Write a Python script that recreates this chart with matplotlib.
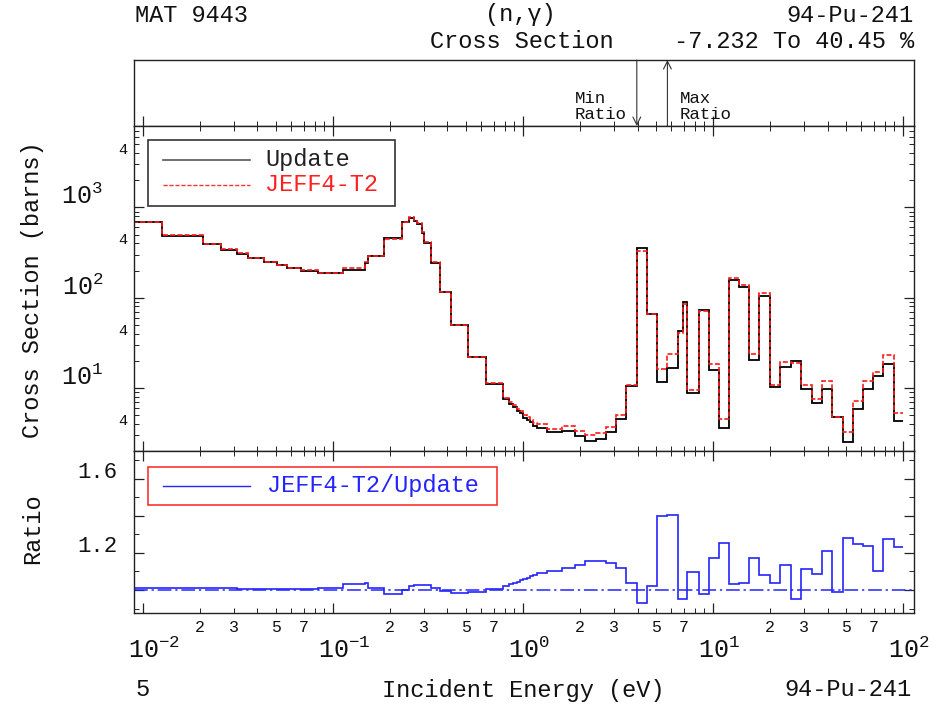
import matplotlib.pyplot as plt
import numpy as np
from matplotlib.patches import Rectangle
from matplotlib.ticker import LogLocator, MultipleLocator, NullFormatter


W, H = 937, 705
plt.rcParams["font.family"] = ["Liberation Mono", "DejaVu Sans Mono"]
plt.rcParams["mathtext.fontset"] = "custom"
plt.rcParams["mathtext.rm"] = "Liberation Mono"
plt.rcParams["mathtext.it"] = "Liberation Mono:italic"

# group boundaries (eV)
edges = [0.0089, 0.01254, 0.0206, 0.02574, 0.03113, 0.03583, 0.04334, 0.05053, 0.05747, 0.06784,
         0.08306, 0.1125, 0.1474, 0.1534, 0.1862, 0.2316, 0.2521, 0.2669, 0.2778, 0.2951,
         0.3024, 0.3280, 0.3657, 0.4179, 0.5135, 0.6363, 0.7848, 0.8439, 0.8889, 0.9265,
         0.9643, 1.0036, 1.046, 1.088, 1.133, 1.181, 1.332, 1.598, 1.878, 2.120,
         2.423, 2.734, 3.087, 3.484, 3.966, 4.478, 5.091, 5.747, 6.521, 6.927,
         7.324, 8.439, 9.526, 10.75, 12.14, 13.70, 15.53, 17.53, 19.95, 22.61,
         25.74, 29.06, 33.07, 37.33, 42.45, 48.15, 54.36, 61.37, 69.78, 78.77,
         90.00, 100.0]

# (n,gamma) cross sections, barns
update_xs = [688, 487, 390, 341, 308, 275, 249, 230, 213, 200,
             188, 205, 241, 287, 463, 695, 762, 709, 661, 520,
             407, 245, 116, 50.3, 22.2, 11.1, 7.50, 6.71, 6.17, 5.57,
             5.23, 4.69, 4.43, 4.14, 3.80, 3.64, 3.21, 3.35, 2.90, 2.60,
             2.71, 3.21, 4.51, 10.5, 355, 65.2, 11.5, 16.8, 42.6, 89.2,
             8.74, 72.2, 15.8, 3.64, 159, 132, 20.4, 104, 10.3, 17.1,
             19.9, 9.83, 6.88, 9.83, 4.78, 2.53, 5.81, 9.68, 13.6, 18.3,
             4.29]
jeff_xs = [696, 492, 394, 344, 310, 277, 250, 231, 214, 201,
           190, 211, 250, 290, 452, 695, 778, 729, 680, 535,
           419, 247, 115, 49.6, 22.0, 11.2, 7.66, 6.91, 6.40, 5.82,
           5.50, 4.97, 4.73, 4.45, 4.11, 3.97, 3.54, 3.74, 3.29, 3.01,
           3.13, 3.68, 5.04, 10.9, 329, 66.6, 16.1, 23.6, 40.5, 84.8,
           9.60, 70.5, 18.6, 4.56, 164, 137, 23.9, 112, 10.7, 19.4,
           18.9, 10.9, 7.47, 11.9, 4.74, 3.24, 7.25, 12.0, 15.0, 23.4,
           5.29]
ratio = [1.012, 1.011, 1.010, 1.009, 1.008, 1.007, 1.006, 1.006, 1.005, 1.005,
         1.010, 1.032, 1.040, 1.009, 0.977, 1.000, 1.022, 1.029, 1.029, 1.029,
         1.029, 1.009, 0.995, 0.986, 0.991, 1.005, 1.022, 1.030, 1.037, 1.045,
         1.052, 1.060, 1.067, 1.074, 1.082, 1.090, 1.104, 1.117, 1.135, 1.157,
         1.157, 1.148, 1.117, 1.036, 0.9277, 1.022, 1.400, 1.4045, 0.950, 0.950,
         1.099, 0.977, 1.175, 1.252, 1.031, 1.036, 1.171, 1.081, 1.036, 1.135,
         0.951, 1.114, 1.086, 1.211, 0.991, 1.279, 1.247, 1.238, 1.104, 1.276,
         1.232]

x_major = [0.01, 0.1, 1, 10, 100]
x_exp = ["-2", "-1", "0", "1", "2"]
x_minor_lab = [2, 3, 5, 7]
y_major = [10, 100, 1000]
y_exp = ["1", "2", "3"]
y_four = [4, 40, 400, 4000]
r_labels = [1.2, 1.6]

XLIM = (0.00897, 114)
YLIM = (2, 8000)
RLIM = (0.876, 1.75)
TXT = "#111111"
BLUE = "#2424ff"


def fx(px):
    return px / W


def fy(py):
    return 1 - py / H


def style_ticks(ax, top=True, bottom=True, left=True, right=True):
    ax.tick_params(which="both", direction="in", top=top, bottom=bottom,
                   left=left, right=right, labelbottom=False, labelleft=False,
                   colors="#222222")
    ax.tick_params(which="major", length=7, width=0.9)
    ax.tick_params(which="minor", length=3.5, width=0.7)
    for s in ax.spines.values():
        s.set_linewidth(1.0)
        s.set_color("#222222")


fig = plt.figure(figsize=(W / 100, H / 100), dpi=100)
L, R = 134, 914
ax_top = fig.add_axes([fx(L), fy(126), fx(R) - fx(L), (126 - 60) / H])
ax = fig.add_axes([fx(L), fy(451), fx(R) - fx(L), (451 - 126) / H])
ax_r = fig.add_axes([fx(L), fy(613), fx(R) - fx(L), (613 - 451) / H])

for a in (ax_top, ax, ax_r):
    a.set_xscale("log")
    a.set_xlim(*XLIM)
    a.xaxis.set_major_locator(LogLocator(base=10))
    a.xaxis.set_minor_locator(LogLocator(base=10, subs=np.arange(2, 10)))
    a.xaxis.set_major_formatter(NullFormatter())
    a.xaxis.set_minor_formatter(NullFormatter())

# ---- top strip with min / max ratio markers
style_ticks(ax_top, top=False, left=False, right=False)
ax_top.set_yticks([])
ax_top.set_ylim(0, 1)
imin = int(np.argmin(ratio))
imax = int(np.argmax(ratio))
xmin_arrow = edges[imin]
xmax_arrow = edges[imax]
ax_top.annotate("", xy=(xmin_arrow, 0), xytext=(xmin_arrow, 1),
                xycoords=("data", "axes fraction"),
                arrowprops=dict(arrowstyle="->", color="#333333", lw=0.8,
                                shrinkA=0, shrinkB=0, mutation_scale=14))
ax_top.annotate("", xy=(xmax_arrow, 1), xytext=(xmax_arrow, 0),
                xycoords=("data", "axes fraction"),
                arrowprops=dict(arrowstyle="->", color="#333333", lw=0.8,
                                shrinkA=0, shrinkB=0, mutation_scale=14))
ax_top.annotate("Min\nRatio", xy=(xmin_arrow, 0.29), xycoords=("data", "axes fraction"),
                xytext=(-10, 0), textcoords="offset pixels", ha="right", va="center",
                multialignment="left", linespacing=1.1, fontsize=12.5, color=TXT)
ax_top.annotate("Max\nRatio", xy=(xmax_arrow, 0.29), xycoords=("data", "axes fraction"),
                xytext=(12, 0), textcoords="offset pixels", ha="left", va="center",
                multialignment="left", linespacing=1.1, fontsize=12.5, color=TXT)

# ---- cross section panel
style_ticks(ax)
ax.set_yscale("log")
ax.set_ylim(*YLIM)
ax.yaxis.set_major_locator(LogLocator(base=10))
ax.yaxis.set_minor_locator(LogLocator(base=10, subs=np.arange(2, 10)))
ax.yaxis.set_major_formatter(NullFormatter())
ax.yaxis.set_minor_formatter(NullFormatter())
ax.stairs(update_xs, edges, baseline=None, color="black", lw=1.3)
ax.stairs(jeff_xs, edges, baseline=None, color="#ff1a1a", lw=1.2,
          linestyle=(0, (3, 1.3)))

for v, e in zip(y_major, y_exp):
    ax.annotate(r"$\mathregular{10^{%s}}$" % e, xy=(0, v),
                xycoords=("axes fraction", "data"), xytext=(-31, 11),
                textcoords="offset pixels", ha="right", va="center",
                fontsize=18, color=TXT)
for v in y_four:
    ax.annotate("4", xy=(0, v), xycoords=("axes fraction", "data"),
                xytext=(-11, 3), textcoords="offset pixels", ha="center", va="center",
                fontsize=11, color=TXT)

# legend
ax.add_patch(Rectangle((0.018, 0.754), 0.3166, 0.203, transform=ax.transAxes,
                       fill=False, ec="#333333", lw=1.2))
ax.plot([0.0372, 0.1487], [0.8954, 0.8954], transform=ax.transAxes, color="#555555", lw=1.2)
ax.plot([0.0372, 0.1487], [0.8185, 0.8185], transform=ax.transAxes, color="#ff3030", lw=1.0,
        linestyle=(0, (3, 1.3)))
ax.text(0.168, 0.8954, "Update", transform=ax.transAxes, fontsize=17, color="#222222",
        va="center", ha="left")
ax.text(0.168, 0.8185, "JEFF4-T2", transform=ax.transAxes, fontsize=17, color="#ff2020",
        va="center", ha="left")

# ---- ratio panel
style_ticks(ax_r)
ax_r.set_ylim(*RLIM)
ax_r.yaxis.set_major_locator(MultipleLocator(0.2))
ax_r.yaxis.set_minor_locator(MultipleLocator(0.1))
ax_r.yaxis.set_major_formatter(NullFormatter())
ax_r.axhline(1.0, color=BLUE, lw=1.1, linestyle=(0, (9, 2.5, 1.5, 2.5)))
ax_r.stairs(ratio, edges, baseline=None, color=BLUE, lw=1.2)

for v in r_labels:
    ax_r.annotate(f"{v:.1f}", xy=(0, v), xycoords=("axes fraction", "data"),
                  xytext=(-16, 6), textcoords="offset pixels", ha="right", va="center",
                  fontsize=16, color=TXT)

ax_r.add_patch(Rectangle((0.018, 0.667), 0.4474, 0.234, transform=ax_r.transAxes,
                         fill=False, ec="#ff2020", lw=1.1))
ax_r.plot([0.0372, 0.1487], [0.784, 0.784], transform=ax_r.transAxes, color=BLUE, lw=1.0)
ax_r.text(0.1705, 0.784, "JEFF4-T2/Update", transform=ax_r.transAxes, fontsize=17,
          color=BLUE, va="center", ha="left")

# x tick labels below ratio panel
for v, e in zip(x_major, x_exp):
    ax_r.annotate(r"$\mathregular{10^{%s}}$" % e, xy=(v, 0),
                  xycoords=("data", "axes fraction"), xytext=(-15, -37),
                  textcoords="offset pixels", ha="left", va="center",
                  fontsize=18, color=TXT)
    if v < 100:
        for m in x_minor_lab:
            ax_r.annotate(str(m), xy=(v * m, 0), xycoords=("data", "axes fraction"),
                          xytext=(0, -14), textcoords="offset pixels", ha="center",
                          va="center", fontsize=12, color=TXT)

# ---- titles and axis captions
fig.text(fx(135), fy(15), "MAT 9443", fontsize=17, ha="left", va="center", color=TXT)
fig.text(fx(520), fy(15), "(n,γ)", fontsize=17, ha="center", va="center", color=TXT)
fig.text(fx(914), fy(15), "94-Pu-241", fontsize=17, ha="right", va="center", color=TXT)
fig.text(fx(430), fy(42), "Cross Section", fontsize=17, ha="left", va="center", color=TXT)
fig.text(fx(914), fy(42), "-7.232 To 40.45 %", fontsize=17, ha="right", va="center", color=TXT)

fig.text(fx(33), fy(290), "Cross Section (barns)", fontsize=17, rotation=90,
         ha="center", va="center", color=TXT)
fig.text(fx(33), fy(529), "Ratio", fontsize=17, rotation=90, ha="center", va="center",
         color=TXT)
fig.text(fx(135), fy(690), "5", fontsize=17, ha="left", va="center", color=TXT)
fig.text(fx(523), fy(690), "Incident Energy (eV)", fontsize=17, ha="center", va="center",
         color=TXT)
fig.text(fx(912), fy(690), "94-Pu-241", fontsize=17, ha="right", va="center", color=TXT)

fig.savefig("out.png", dpi=100)
